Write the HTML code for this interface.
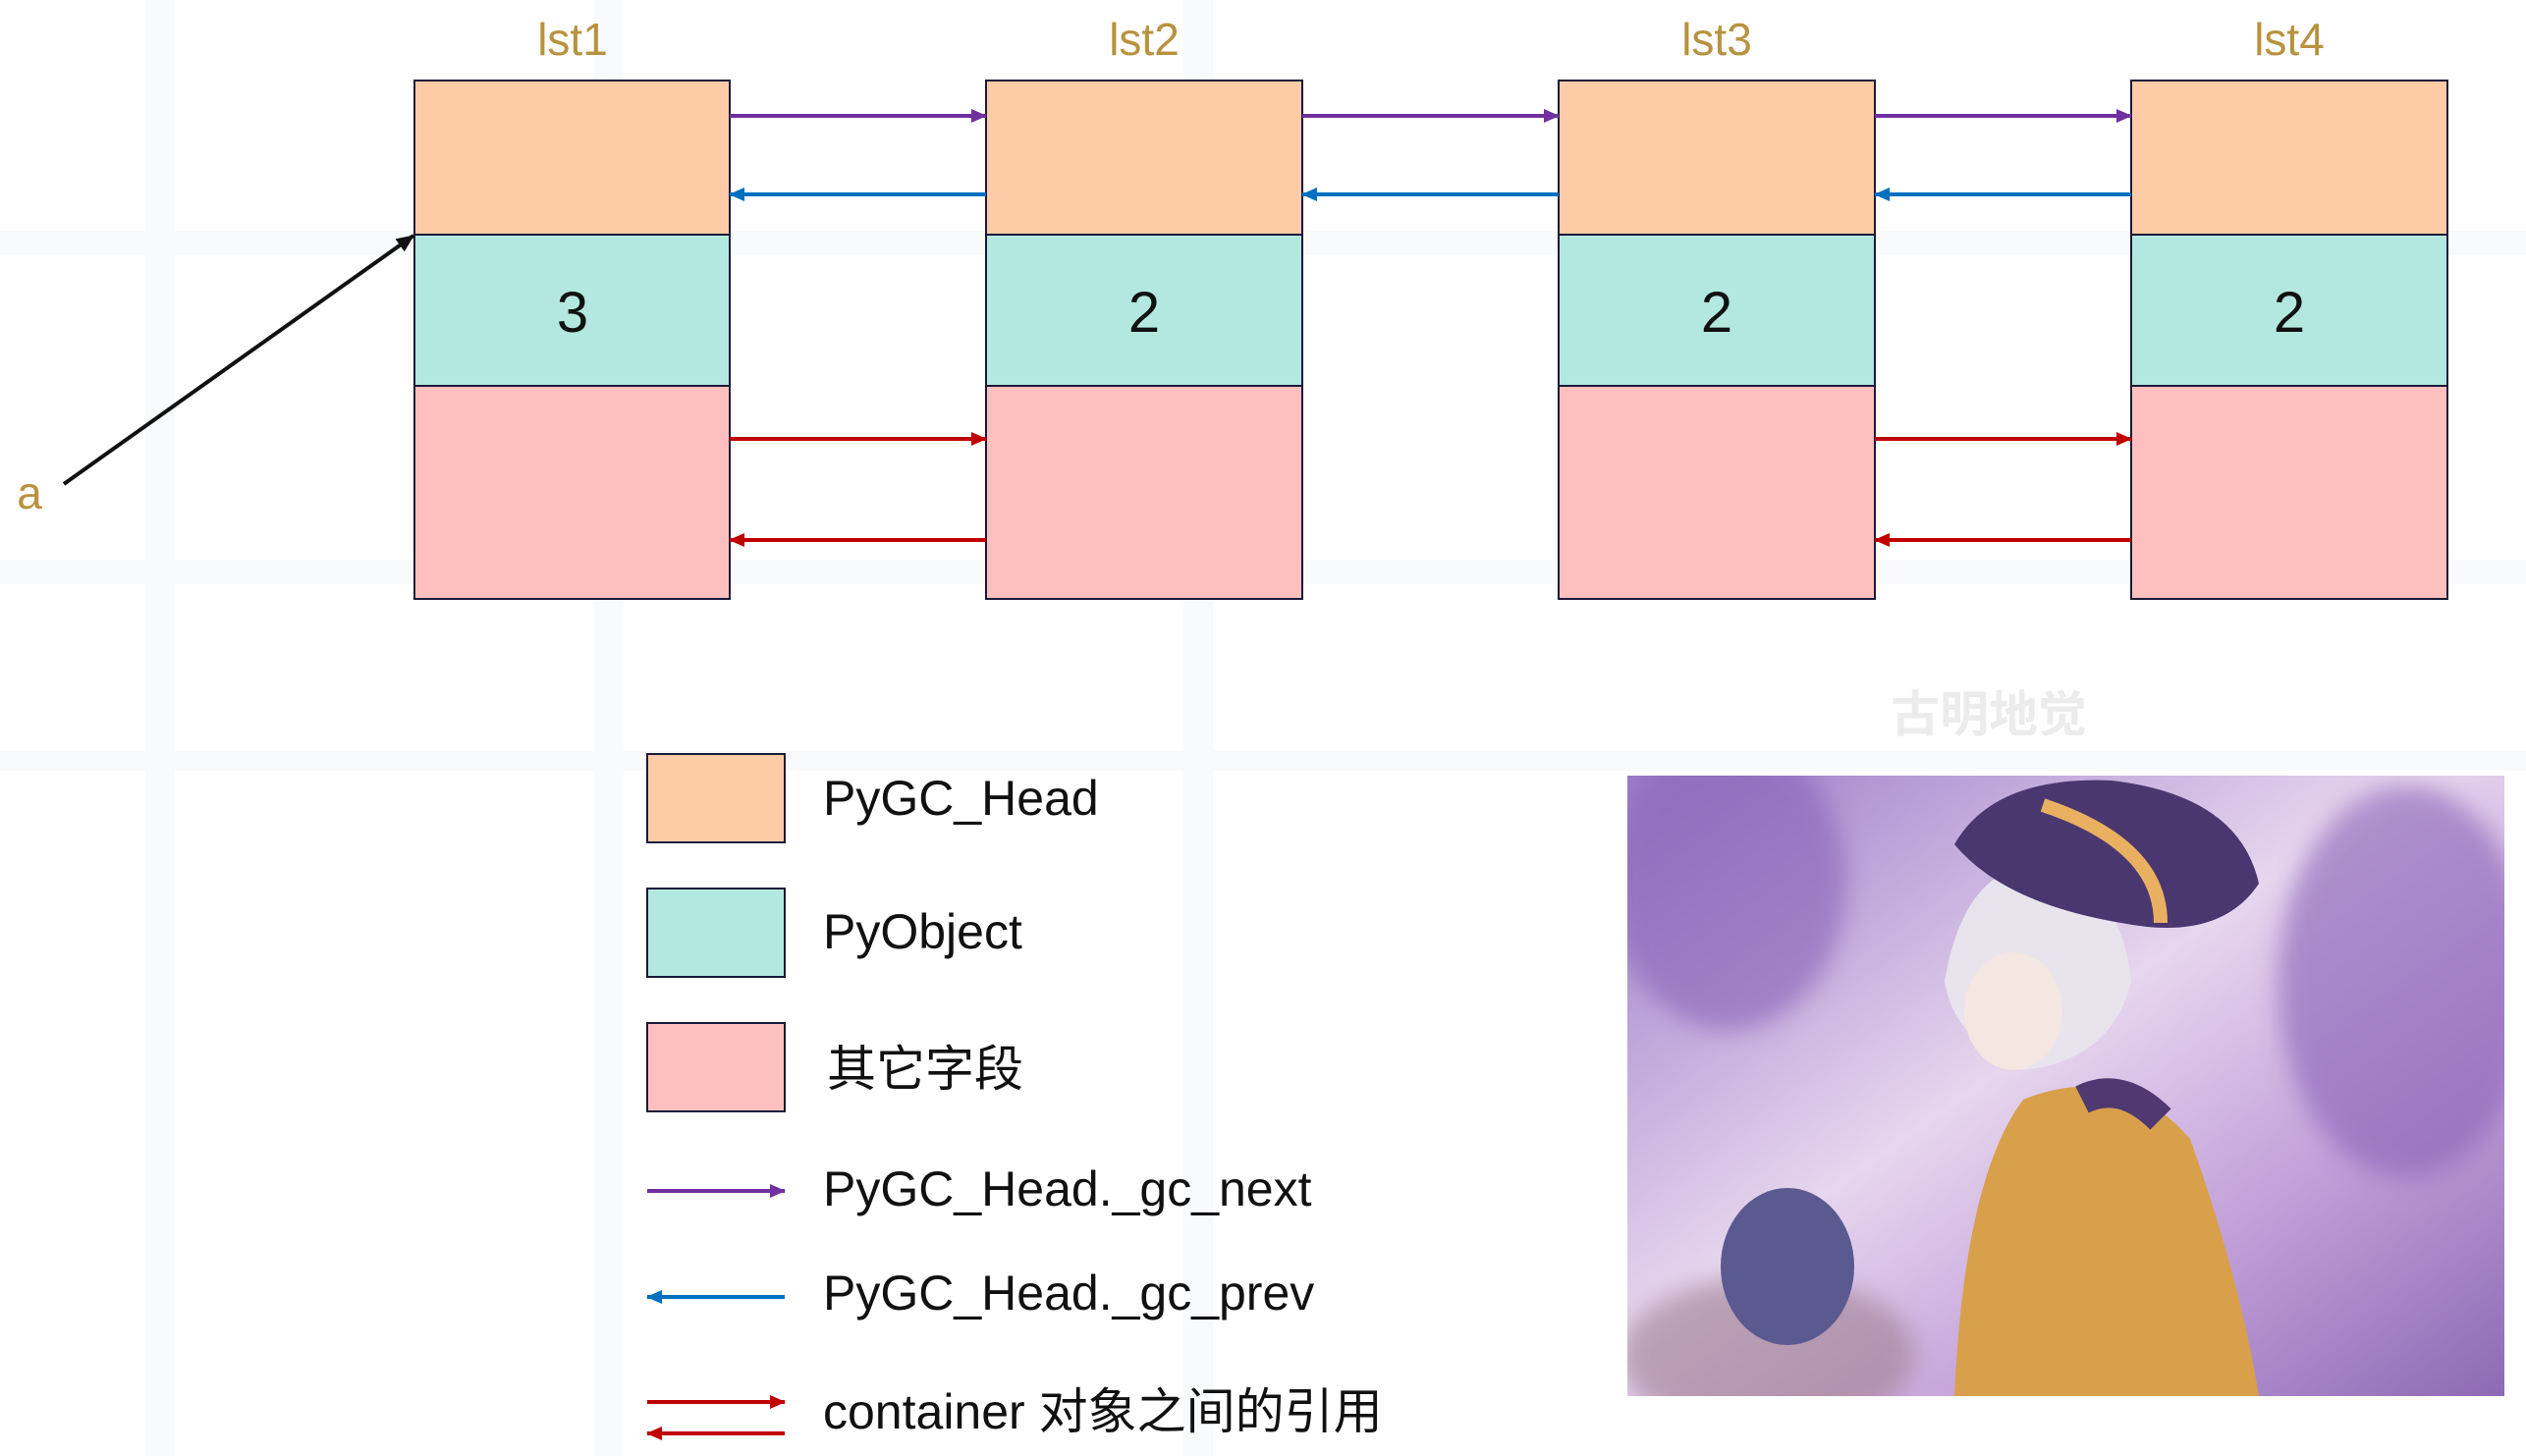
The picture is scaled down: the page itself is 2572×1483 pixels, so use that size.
<!DOCTYPE html>
<html><head><meta charset="utf-8"><style>
body{margin:0;background:#fff}
svg{display:block}
</style></head><body>
<svg width="2572" height="1483" xmlns="http://www.w3.org/2000/svg" font-family="Liberation Sans, Noto Sans CJK SC, sans-serif">
<defs>
<marker id="mp" markerWidth="16" markerHeight="16" refX="15" refY="8" orient="auto" markerUnits="userSpaceOnUse" viewBox="0 0 16 16"><path d="M0,1 L16,8 L0,15 z" fill="#7030a0"/></marker>
<marker id="mb" markerWidth="16" markerHeight="16" refX="15" refY="8" orient="auto" markerUnits="userSpaceOnUse" viewBox="0 0 16 16"><path d="M0,1 L16,8 L0,15 z" fill="#0070c0"/></marker>
<marker id="mr" markerWidth="16" markerHeight="16" refX="15" refY="8" orient="auto" markerUnits="userSpaceOnUse" viewBox="0 0 16 16"><path d="M0,1 L16,8 L0,15 z" fill="#c00000"/></marker>
<marker id="mk" markerWidth="18" markerHeight="18" refX="17" refY="9" orient="auto" markerUnits="userSpaceOnUse" viewBox="0 0 18 18"><path d="M0,1 L18,9 L0,17 z" fill="#111"/></marker>
<linearGradient id="g1" x1="0" y1="0" x2="1" y2="1"><stop offset="0" stop-color="#9a7ac8"/><stop offset="0.45" stop-color="#e6d6ee"/><stop offset="0.7" stop-color="#c4a2da"/><stop offset="1" stop-color="#8d6ab4"/></linearGradient>
<clipPath id="cp"><rect x="1657" y="790" width="893" height="632"/></clipPath>
<filter id="bl"><feGaussianBlur stdDeviation="12"/></filter>
</defs>
<g fill="#f8fafc"><rect x="148" y="0" width="30" height="1483"/><rect x="605" y="0" width="30" height="1483"/><rect x="1205" y="0" width="30" height="1483"/><rect x="0" y="235" width="2572" height="25"/><rect x="0" y="570" width="2572" height="25"/><rect x="0" y="765" width="2572" height="20"/></g>
<g font-size="46" fill="#b8923f" text-anchor="middle">
<text x="583" y="56">lst1</text><text x="1165" y="56">lst2</text><text x="1748" y="56">lst3</text><text x="2331" y="56">lst4</text>
<text x="30" y="518">a</text></g>
<g stroke="#1a1a3a" stroke-width="2">
<g><rect x="422" y="82" width="321" height="157" fill="#fecba7"/><rect x="422" y="239" width="321" height="154" fill="#b3e8e0"/><rect x="422" y="393" width="321" height="217" fill="#fec0bf"/></g>
<g><rect x="1004" y="82" width="322" height="157" fill="#fecba7"/><rect x="1004" y="239" width="322" height="154" fill="#b3e8e0"/><rect x="1004" y="393" width="322" height="217" fill="#fec0bf"/></g>
<g><rect x="1587" y="82" width="322" height="157" fill="#fecba7"/><rect x="1587" y="239" width="322" height="154" fill="#b3e8e0"/><rect x="1587" y="393" width="322" height="217" fill="#fec0bf"/></g>
<g><rect x="2170" y="82" width="322" height="157" fill="#fecba7"/><rect x="2170" y="239" width="322" height="154" fill="#b3e8e0"/><rect x="2170" y="393" width="322" height="217" fill="#fec0bf"/></g>
</g>
<g font-size="58" fill="#111" text-anchor="middle"><text x="583" y="338">3</text><text x="1165" y="338">2</text><text x="1748" y="338">2</text><text x="2331" y="338">2</text></g>
<g stroke-width="4">
<line x1="743" y1="118" x2="1004" y2="118" stroke="#7030a0" marker-end="url(#mp)"/>
<line x1="1326" y1="118" x2="1587" y2="118" stroke="#7030a0" marker-end="url(#mp)"/>
<line x1="1909" y1="118" x2="2170" y2="118" stroke="#7030a0" marker-end="url(#mp)"/>
<line x1="1004" y1="198" x2="743" y2="198" stroke="#0070c0" marker-end="url(#mb)"/>
<line x1="1587" y1="198" x2="1326" y2="198" stroke="#0070c0" marker-end="url(#mb)"/>
<line x1="2170" y1="198" x2="1909" y2="198" stroke="#0070c0" marker-end="url(#mb)"/>
<line x1="743" y1="447" x2="1004" y2="447" stroke="#c00000" marker-end="url(#mr)"/>
<line x1="1909" y1="447" x2="2170" y2="447" stroke="#c00000" marker-end="url(#mr)"/>
<line x1="1004" y1="550" x2="743" y2="550" stroke="#c00000" marker-end="url(#mr)"/>
<line x1="2170" y1="550" x2="1909" y2="550" stroke="#c00000" marker-end="url(#mr)"/>
<line x1="65" y1="493" x2="421" y2="240" stroke="#111" marker-end="url(#mk)"/>
</g>
<g stroke="#1a1a3a" stroke-width="2">
<rect x="659" y="768" width="140" height="90" fill="#fecba7"/>
<rect x="659" y="905" width="140" height="90" fill="#b3e8e0"/>
<rect x="659" y="1042" width="140" height="90" fill="#fec0bf"/>
</g>
<g stroke-width="4">
<line x1="659" y1="1213" x2="799" y2="1213" stroke="#7030a0" marker-end="url(#mp)"/>
<line x1="799" y1="1321" x2="659" y2="1321" stroke="#0070c0" marker-end="url(#mb)"/>
<line x1="659" y1="1428" x2="799" y2="1428" stroke="#c00000" marker-end="url(#mr)"/>
<line x1="799" y1="1460" x2="659" y2="1460" stroke="#c00000" marker-end="url(#mr)"/>
</g>
<g font-size="50" fill="#111">
<text x="838" y="830">PyGC_Head</text>
<text x="838" y="966">PyObject</text>
<text x="842" y="1106">其它字段</text>
<text x="838" y="1228">PyGC_Head._gc_next</text>
<text x="838" y="1334">PyGC_Head._gc_prev</text>
<text x="838" y="1455">container 对象之间的引用</text>
</g>
<text x="1925" y="745" font-size="50" font-weight="bold" fill="#ececec">古明地觉</text>
<rect x="1657" y="790" width="893" height="632" fill="url(#g1)"/>
<g clip-path="url(#cp)">
<g filter="url(#bl)" opacity="0.6"><ellipse cx="1760" cy="900" rx="120" ry="150" fill="#8a64b8"/><ellipse cx="2450" cy="1000" rx="130" ry="200" fill="#8a64b8"/><ellipse cx="1800" cy="1380" rx="150" ry="80" fill="#a08090"/></g>
<path d="M1990,1422 Q2000,1200 2060,1120 Q2160,1080 2230,1160 Q2280,1300 2300,1422 Z" fill="#d8a04a"/>
<path d="M1980,1000 Q2000,880 2080,880 Q2160,900 2170,1000 Q2150,1080 2060,1090 Q1990,1060 1980,1000 Z" fill="#e8e4ee"/>
<ellipse cx="2050" cy="1030" rx="50" ry="60" fill="#f4e6e0"/>
<path d="M1990,860 Q2030,790 2150,795 Q2280,810 2300,900 Q2260,960 2160,940 Q2040,920 1990,860 Z" fill="#4a3770"/>
<path d="M2080,820 Q2200,860 2200,940" stroke="#e8b060" stroke-width="14" fill="none"/>
<ellipse cx="1820" cy="1290" rx="68" ry="80" fill="#5a5a90"/>
<path d="M2120,1120 Q2160,1100 2200,1140" stroke="#503870" stroke-width="30" fill="none"/>
</g>
</svg>
</body></html>
